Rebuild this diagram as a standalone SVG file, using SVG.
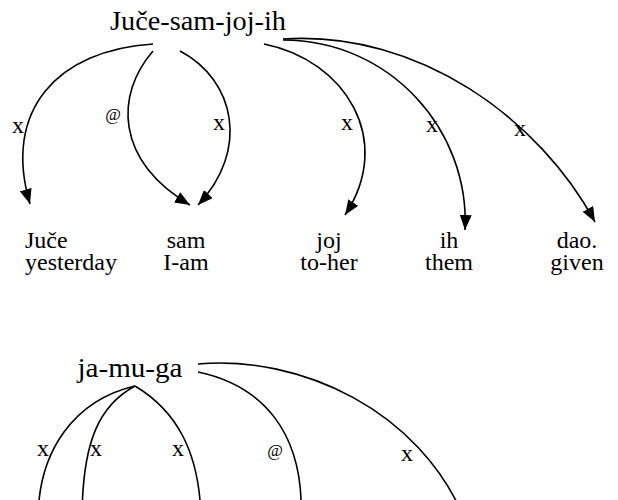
<svg xmlns="http://www.w3.org/2000/svg" width="618" height="500" viewBox="0 0 618 500">
  <defs>
    <marker id="arrow" markerWidth="16" markerHeight="12" refX="15" refY="6" orient="auto" markerUnits="userSpaceOnUse">
      <path d="M0,0 L15,6 L0,12 Z" fill="#000"/>
    </marker>
    <style>
      text { font-family: "Liberation Serif", "Times New Roman", serif; fill: #000; }
      .word { font-size: 24px; }
      .head { font-size: 27px; text-anchor: middle; }
      .lbl { font-size: 24px; text-anchor: middle; }
      .at { font-size: 17px; text-anchor: middle; }
      .mid { text-anchor: middle; }
      .edge { fill: none; stroke: #000; stroke-width: 1.6; }
      .arr { marker-end: url(#arrow); }
    </style>
  </defs>
  <rect width="618" height="500" fill="#fff"/>

  <!-- upper sentence: head word -->
  <g id="head1">
    <text class="head" x="198" y="30" textLength="176" lengthAdjust="spacingAndGlyphs">Juče-sam-joj-ih</text>
  </g>

  <!-- upper sentence: dependent words with glosses -->
  <g id="w-juce">
    <text class="word" x="25" y="248">Juče</text>
    <text class="word" x="25" y="270">yesterday</text>
  </g>
  <g id="w-sam">
    <text class="word mid" x="186" y="248">sam</text>
    <text class="word mid" x="186" y="270">I-am</text>
  </g>
  <g id="w-joj">
    <text class="word mid" x="329" y="248">joj</text>
    <text class="word mid" x="329" y="270">to-her</text>
  </g>
  <g id="w-ih">
    <text class="word mid" x="449" y="248">ih</text>
    <text class="word mid" x="449" y="270">them</text>
  </g>
  <g id="w-dao">
    <text class="word mid" x="577" y="248">dao.</text>
    <text class="word mid" x="577" y="270">given</text>
  </g>

  <!-- lower sentence: head word -->
  <g id="head2">
    <text class="head" x="130" y="377" textLength="105" lengthAdjust="spacingAndGlyphs">ja-mu-ga</text>
  </g>

  <!-- connectors -->
  <g id="edges">
    <path class="edge arr" d="M153,44 C58,50 2,110 30,204"/>
    <path class="edge arr" d="M153,51 C115,95 115,160 190,205"/>
    <path class="edge arr" d="M180,51 C235,80 250,150 198,205"/>
    <path class="edge arr" d="M264,44 C345,60 395,140 345,215"/>
    <path class="edge arr" d="M283,40 C390,40 470,130 465,230"/>
    <path class="edge arr" d="M283,39 C420,30 540,120 595,222"/>

    <path class="edge" d="M135,386 C75,400 38,450 38,520"/>
    <path class="edge" d="M135,386 C100,405 82,440 82,520"/>
    <path class="edge" d="M135,386 C175,410 200,450 201,520"/>
    <path class="edge" d="M198,372 C260,385 305,430 301,520"/>
    <path class="edge" d="M198,364 C300,355 420,410 465,520"/>

    <text class="lbl" x="18" y="133">x</text>
    <text class="at" x="113" y="120">@</text>
    <text class="lbl" x="219" y="130">x</text>
    <text class="lbl" x="347" y="130">x</text>
    <text class="lbl" x="432" y="132">x</text>
    <text class="lbl" x="520" y="136">x</text>

    <text class="lbl" x="43" y="456">x</text>
    <text class="lbl" x="96" y="456">x</text>
    <text class="lbl" x="178" y="456">x</text>
    <text class="at" x="275" y="456">@</text>
    <text class="lbl" x="407" y="461">x</text>
  </g>
</svg>
